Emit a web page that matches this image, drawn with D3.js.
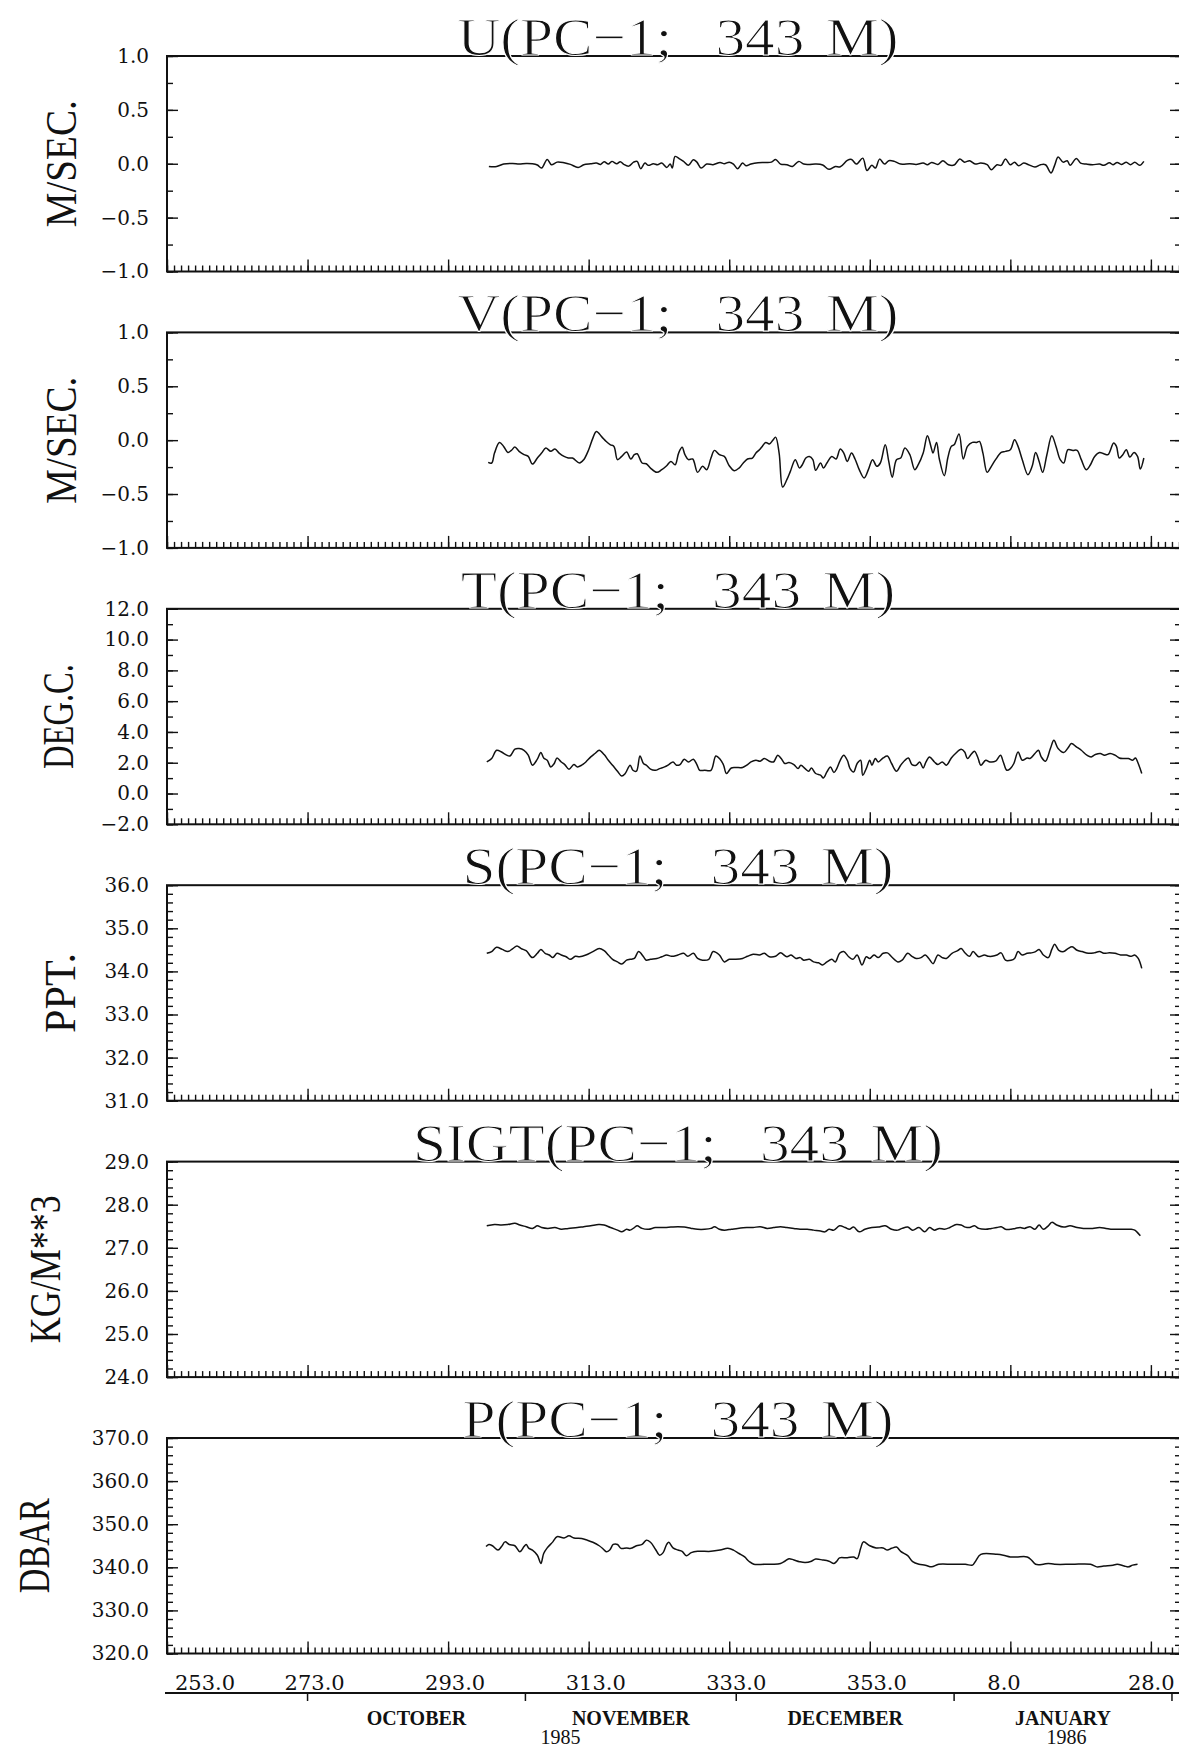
<!DOCTYPE html>
<html>
<head>
<meta charset="UTF-8">
<title>PC-1 343 M</title>
<style>
  body { margin: 0; background: #fff; }
  svg { display: block; background: #fff; }
  text { fill: #111; }
</style>
</head>
<body>
<svg></svg>
<script src="https://d3js.org/d3.v7.min.js"></script>
<script>
// ---- panel text / axes ----
const titles = ["U(PC\u22121;  343 M)", "V(PC\u22121;  343 M)", "T(PC\u22121;  343 M)",
                "S(PC\u22121;  343 M)", "SIGT(PC\u22121;  343 M)", "P(PC\u22121;  343 M)"]
const units = ["M/SEC.", "M/SEC.", "DEG.C.", "PPT.", "KG/M**3", "DBAR"]
const yDomains = [[-1, 1], [-1, 1], [-2, 12], [31, 36], [24, 29], [320, 370]]
const majorSteps = [0.5, 0.5, 2, 1, 1, 10]
const minorSteps = [0.25, 0.25, 1, 0.2, 0.2, 2]

// day of year (1985 based); 8.0 and 28.0 are January 1986
const dayTicks = [253, 273, 293, 313, 333, 353, 373, 393]
const months = ["OCTOBER", "NOVEMBER", "DECEMBER", "JANUARY"]
const monthStarts = [273, 304, 334, 365, 396]
const years = ["1985", "1986"]
const yearDays = [309, 381]

// ---- series: [day, value] ----
const uData = [[298.8,-0.025],[299.9,-0.025],[300.9,-0.003],[302.2,0.003],[303.1,-0.003],[304.1,0.003],[305.0,0],[305.7,-0.012],[306.3,-0.040],[307.1,0.040],[307.7,-0.009],[308.5,0.015],[309.5,0.009],[310.4,-0.006],[311.5,-0.034],[312.3,-0.009],[313.3,0],[314.1,0.006],[314.7,-0.006],[315.2,0.019],[315.8,-0.003],[316.3,0.022],[317.0,0],[317.5,0.019],[318.0,-0.006],[318.7,-0.022],[319.4,0.015],[319.9,0.022],[320.4,-0.046],[321.0,0.006],[321.5,-0.015],[322.2,0],[322.8,-0.009],[323.4,0.006],[324.1,-0.034],[324.6,-0.003],[324.9,-0.040],[325.3,0.068],[326.0,0.043],[326.5,0.022],[327.2,-0.015],[327.9,0.037],[328.4,0.015],[329.0,-0.040],[329.8,-0.003],[330.7,-0.009],[331.7,0.012],[332.3,0],[333.0,0.015],[333.6,-0.003],[334.2,-0.046],[334.9,0.006],[335.4,-0.019],[336.1,-0.003],[337.1,0.009],[338.0,0.012],[339.0,0.015],[339.6,0.040],[340.3,-0.003],[341.2,-0.009],[342.0,-0.025],[342.9,0.022],[343.6,-0.003],[344.4,-0.006],[345.3,-0.003],[346.3,-0.012],[347.2,-0.052],[348.1,-0.025],[348.8,-0.028],[349.8,0.031],[350.4,0.040],[351.1,-0.003],[352.0,0.052],[352.6,-0.062],[353.3,-0.015],[353.8,-0.040],[354.4,0.043],[355.1,-0.003],[355.7,0.028],[356.5,0.022],[357.4,-0.003],[358.7,0],[359.6,-0.006],[360.6,0.006],[361.2,-0.009],[361.8,0.012],[362.7,-0.006],[363.4,0.028],[364.2,-0.009],[365.0,-0.012],[365.8,0.043],[366.5,0.015],[367.2,0.028],[368.0,-0.003],[368.8,0.006],[369.7,-0.009],[370.3,-0.056],[371.1,-0.009],[371.7,-0.015],[372.3,0.043],[373.0,-0.009],[373.6,0.015],[374.2,-0.019],[374.9,0.006],[375.6,-0.009],[376.5,-0.031],[377.3,-0.009],[378.0,-0.009],[378.8,-0.086],[379.3,-0.015],[379.8,0.062],[380.5,0.015],[381.1,0.028],[381.5,-0.015],[382.4,0.049],[383.0,0.006],[383.8,-0.003],[384.7,-0.009],[385.7,-0.003],[386.3,-0.015],[387.1,0.009],[387.6,-0.009],[388.2,0.012],[388.8,-0.006],[389.5,0.015],[390.1,-0.009],[390.7,0.015],[391.4,-0.015],[392.0,0.022]]

const vData = [[298.7,-0.206],[299.2,-0.212],[299.6,-0.120],[300.3,-0.021],[300.9,-0.058],[301.5,-0.114],[302.0,-0.095],[302.5,-0.064],[303.1,-0.104],[303.8,-0.135],[304.4,-0.151],[305.0,-0.222],[305.7,-0.166],[306.3,-0.120],[306.9,-0.073],[307.6,-0.104],[308.2,-0.083],[308.8,-0.120],[309.5,-0.151],[310.1,-0.166],[310.7,-0.166],[311.7,-0.212],[312.3,-0.181],[313.0,-0.089],[313.6,0.019],[314.1,0.081],[314.9,0.028],[315.5,-0.012],[316.1,-0.043],[316.6,-0.058],[317.1,-0.181],[317.7,-0.151],[318.4,-0.110],[319.0,-0.175],[319.5,-0.135],[319.9,-0.126],[320.6,-0.212],[321.2,-0.219],[321.8,-0.259],[322.7,-0.299],[323.4,-0.274],[324.1,-0.237],[324.7,-0.197],[325.3,-0.228],[325.8,-0.120],[326.3,-0.067],[326.7,-0.135],[327.2,-0.181],[327.8,-0.175],[328.5,-0.299],[329.2,-0.243],[329.8,-0.274],[330.4,-0.166],[330.9,-0.095],[331.6,-0.135],[332.3,-0.151],[333.0,-0.237],[333.7,-0.283],[334.4,-0.259],[335.0,-0.212],[335.6,-0.175],[336.3,-0.166],[336.8,-0.120],[337.3,-0.089],[337.7,-0.058],[338.2,-0.021],[338.7,-0.036],[339.2,-0.002],[339.6,0.028],[340.1,-0.120],[340.6,-0.435],[341.2,-0.367],[341.7,-0.290],[342.4,-0.181],[343.0,-0.259],[343.4,-0.228],[343.9,-0.166],[344.4,-0.151],[344.9,-0.181],[345.3,-0.280],[346.0,-0.212],[346.4,-0.259],[346.9,-0.212],[347.6,-0.151],[348.2,-0.175],[348.8,-0.083],[349.3,-0.120],[349.8,-0.197],[350.4,-0.120],[350.9,-0.175],[351.5,-0.274],[352.2,-0.351],[352.8,-0.274],[353.4,-0.181],[354.0,-0.243],[354.5,-0.212],[355.2,-0.043],[355.7,-0.197],[356.2,-0.345],[356.8,-0.181],[357.4,-0.166],[358.0,-0.073],[358.7,-0.135],[359.4,-0.274],[359.9,-0.228],[360.6,-0.120],[361.2,0.041],[361.7,-0.058],[362.0,-0.120],[362.5,-0.021],[362.9,-0.175],[363.6,-0.330],[364.1,-0.166],[364.6,-0.058],[365.0,-0.043],[365.7,0.056],[366.3,-0.175],[366.9,-0.058],[367.6,-0.021],[368.2,-0.021],[368.6,-0.012],[369.1,-0.120],[369.7,-0.299],[370.3,-0.243],[370.9,-0.181],[371.7,-0.114],[372.3,-0.104],[373.0,-0.089],[373.6,0.004],[374.1,-0.058],[374.7,-0.181],[375.5,-0.320],[376.1,-0.243],[376.6,-0.114],[377.1,-0.197],[377.6,-0.299],[378.2,-0.135],[378.9,0.041],[379.5,-0.058],[380.1,-0.181],[380.6,-0.212],[381.2,-0.089],[381.9,-0.095],[382.5,-0.095],[383.1,-0.181],[383.8,-0.274],[384.4,-0.228],[385.0,-0.151],[385.7,-0.114],[386.3,-0.126],[386.9,-0.135],[387.7,-0.027],[388.1,-0.058],[388.5,-0.166],[389.0,-0.135],[389.5,-0.089],[390.0,-0.157],[390.6,-0.114],[391.1,-0.151],[391.5,-0.268],[392.0,-0.166]]

const tData = [[298.5,2.05],[299.2,2.27],[299.9,2.81],[300.6,2.70],[301.2,2.53],[301.8,2.44],[302.5,2.88],[303.1,2.92],[303.8,2.81],[304.4,2.49],[305.0,1.84],[305.7,2.23],[306.2,2.66],[306.6,2.31],[307.1,2.16],[307.6,1.73],[308.1,1.95],[308.5,2.31],[309.1,2.05],[309.6,1.88],[310.2,1.58],[310.9,1.88],[311.4,1.73],[312.0,1.84],[312.6,2.05],[313.3,2.38],[313.9,2.60],[314.5,2.81],[315.2,2.53],[315.8,2.16],[316.4,1.84],[317.1,1.45],[317.7,1.14],[318.2,1.30],[318.9,1.84],[319.3,1.51],[319.8,1.45],[320.3,2.44],[320.8,1.95],[321.2,1.84],[321.8,1.58],[322.5,1.51],[323.1,1.62],[323.8,1.73],[324.4,1.88],[325.0,2.05],[325.5,1.84],[326.0,1.88],[326.6,2.23],[327.2,2.05],[327.9,2.23],[328.4,1.88],[328.8,1.51],[329.5,1.51],[330.4,1.51],[331.1,2.44],[331.7,2.23],[332.2,1.84],[332.6,1.30],[333.3,1.66],[333.9,1.69],[334.9,1.69],[335.5,1.84],[336.1,2.05],[336.8,2.16],[337.4,2.10],[338.0,2.27],[338.7,2.10],[339.3,2.05],[339.9,2.49],[340.4,2.27],[340.9,1.95],[341.5,2.01],[342.2,1.88],[342.8,1.62],[343.2,1.84],[343.8,1.62],[344.3,1.45],[344.7,1.66],[345.3,1.30],[346.0,1.19],[346.4,1.01],[346.9,1.40],[347.4,1.73],[347.9,1.36],[348.3,1.62],[348.8,2.16],[349.3,2.49],[349.8,2.16],[350.2,1.62],[350.7,1.40],[351.2,1.95],[351.7,2.16],[352.0,1.19],[352.5,1.62],[353.0,2.16],[353.3,1.84],[353.8,2.27],[354.2,2.05],[354.9,2.31],[355.5,2.44],[356.1,1.95],[356.8,1.45],[357.4,1.84],[358.0,2.16],[358.5,2.31],[359.0,1.88],[359.6,1.84],[360.1,2.05],[360.6,1.66],[361.0,2.05],[361.5,2.38],[362.2,2.05],[362.7,1.88],[363.3,2.05],[363.9,1.84],[364.6,2.31],[365.2,2.60],[366.0,2.88],[366.5,2.70],[366.9,2.27],[367.4,2.53],[367.9,2.75],[368.4,2.31],[368.8,1.84],[369.5,2.16],[370.1,2.05],[370.9,2.10],[371.6,2.49],[372.0,2.05],[372.5,1.51],[373.0,1.62],[373.5,1.95],[374.1,2.70],[374.7,2.16],[375.4,2.31],[375.8,2.27],[376.5,2.60],[377.0,2.81],[377.4,2.38],[378.0,2.10],[378.7,2.92],[379.2,3.46],[379.8,2.92],[380.6,2.66],[381.2,2.96],[381.7,3.25],[382.4,3.03],[383.1,2.81],[383.9,2.49],[384.5,2.38],[385.1,2.53],[385.8,2.60],[386.4,2.49],[387.2,2.60],[387.9,2.49],[388.5,2.31],[389.1,2.27],[389.8,2.27],[390.4,2.16],[390.8,2.31],[391.2,1.95],[391.7,1.30]]

const sData = [[298.5,34.42],[299.2,34.46],[299.9,34.56],[300.7,34.51],[301.5,34.46],[302.2,34.53],[302.8,34.59],[303.4,34.53],[304.1,34.48],[305.0,34.32],[305.7,34.42],[306.2,34.51],[306.8,34.42],[307.4,34.38],[307.9,34.32],[308.5,34.42],[309.1,34.38],[309.8,34.34],[310.4,34.28],[311.1,34.35],[311.7,34.34],[312.6,34.38],[313.6,34.46],[314.5,34.53],[315.2,34.48],[315.8,34.38],[316.4,34.28],[317.1,34.22],[317.7,34.17],[318.4,34.26],[318.9,34.28],[319.5,34.30],[320.1,34.46],[320.8,34.34],[321.2,34.26],[321.8,34.28],[322.7,34.30],[323.4,34.34],[324.1,34.38],[324.8,34.35],[325.7,34.38],[326.5,34.42],[327.1,34.35],[327.9,34.42],[328.5,34.30],[329.2,34.26],[330.1,34.28],[330.7,34.46],[331.6,34.38],[332.3,34.22],[333.0,34.28],[333.9,34.28],[334.9,34.30],[335.6,34.35],[336.4,34.40],[337.3,34.38],[338.0,34.42],[338.7,34.34],[339.6,34.35],[340.3,34.43],[341.2,34.34],[341.8,34.38],[342.5,34.30],[343.1,34.32],[343.6,34.26],[344.4,34.28],[345.0,34.22],[345.7,34.20],[346.3,34.15],[346.9,34.22],[347.6,34.28],[348.1,34.22],[348.7,34.42],[349.3,34.46],[350.0,34.34],[350.6,34.28],[351.2,34.38],[351.9,34.15],[352.5,34.34],[353.0,34.30],[353.6,34.38],[354.2,34.32],[354.9,34.42],[355.5,34.43],[356.1,34.34],[357.0,34.22],[357.6,34.26],[358.4,34.42],[359.0,34.35],[359.6,34.30],[360.3,34.32],[360.9,34.38],[361.4,34.30],[362.0,34.18],[362.7,34.38],[363.3,34.32],[363.9,34.30],[364.7,34.42],[365.5,34.48],[366.0,34.53],[366.6,34.42],[367.2,34.35],[367.7,34.46],[368.5,34.34],[369.3,34.38],[369.9,34.35],[370.4,34.35],[371.1,34.38],[371.7,34.43],[372.3,34.26],[373.1,34.26],[373.6,34.30],[374.1,34.46],[374.7,34.38],[375.4,34.42],[376.0,34.43],[376.6,34.46],[377.1,34.51],[377.7,34.38],[378.4,34.32],[378.9,34.51],[379.3,34.63],[379.9,34.49],[380.6,34.46],[381.2,34.53],[381.8,34.57],[382.5,34.49],[383.2,34.46],[384.1,34.42],[384.9,34.43],[385.7,34.46],[386.3,34.42],[387.1,34.43],[387.9,34.42],[388.7,34.38],[389.5,34.38],[390.2,34.35],[390.7,34.38],[391.2,34.30],[391.7,34.07]]

const sigtData = [[298.5,27.51],[299.6,27.54],[300.6,27.53],[301.5,27.54],[302.5,27.57],[303.2,27.53],[304.1,27.49],[305.0,27.45],[305.7,27.51],[306.3,27.47],[307.2,27.45],[308.2,27.47],[309.1,27.43],[310.1,27.45],[311.4,27.47],[312.3,27.49],[313.3,27.51],[314.4,27.54],[315.2,27.53],[316.1,27.47],[317.1,27.41],[317.7,27.37],[318.4,27.43],[318.9,27.41],[319.5,27.47],[319.9,27.51],[320.6,27.45],[321.5,27.43],[322.5,27.47],[323.8,27.47],[324.7,27.48],[325.7,27.49],[326.6,27.48],[327.6,27.45],[328.5,27.43],[329.5,27.43],[330.4,27.45],[330.9,27.49],[331.6,27.43],[332.3,27.41],[333.3,27.43],[334.2,27.45],[335.5,27.47],[336.4,27.47],[337.4,27.49],[338.4,27.45],[339.3,27.47],[340.3,27.49],[341.2,27.47],[342.2,27.45],[343.1,27.43],[344.1,27.43],[345.0,27.41],[346.0,27.39],[346.6,27.37],[347.2,27.43],[347.9,27.41],[348.7,27.51],[349.5,27.47],[350.1,27.43],[350.7,27.48],[351.5,27.37],[352.3,27.43],[353.3,27.47],[354.2,27.48],[355.2,27.51],[356.1,27.43],[357.0,27.41],[357.6,27.45],[358.4,27.48],[359.1,27.41],[360.0,27.47],[360.8,27.37],[361.5,27.47],[362.2,27.41],[362.9,27.45],[363.6,27.43],[364.4,27.47],[365.3,27.54],[366.0,27.53],[366.6,27.48],[367.2,27.47],[367.9,27.51],[368.5,27.45],[369.5,27.43],[370.3,27.45],[371.1,27.47],[371.7,27.49],[372.3,27.43],[373.1,27.43],[373.7,27.45],[374.4,27.47],[375.0,27.45],[375.8,27.49],[376.5,27.43],[377.1,27.53],[377.7,27.43],[378.4,27.51],[378.9,27.59],[379.6,27.53],[380.6,27.48],[381.5,27.51],[382.5,27.47],[383.4,27.45],[384.7,27.45],[385.7,27.47],[386.6,27.45],[387.6,27.43],[388.5,27.43],[389.5,27.43],[390.2,27.43],[390.7,27.41],[391.0,27.37],[391.5,27.28]]

const pData = [[298.4,344.8],[298.8,345.3],[299.3,345.0],[300.1,344.0],[300.6,344.8],[301.1,345.9],[301.7,345.3],[302.5,345.0],[303.2,343.6],[303.8,344.8],[304.1,345.3],[304.5,344.4],[305.0,344.0],[305.7,342.8],[306.2,340.9],[306.6,343.2],[307.1,344.5],[307.9,345.9],[308.5,347.1],[309.5,346.8],[310.2,347.3],[310.9,346.8],[312.0,346.7],[312.8,346.3],[313.6,345.8],[314.5,345.0],[315.1,344.2],[315.5,343.6],[316.0,344.0],[316.5,345.3],[317.1,345.3],[317.6,344.4],[318.4,344.5],[319.0,344.4],[319.8,345.0],[320.6,345.3],[321.2,346.3],[321.8,345.8],[322.5,344.2],[323.1,342.8],[323.6,343.4],[324.1,345.3],[324.4,345.8],[325.0,344.5],[325.7,344.0],[326.3,343.7],[326.9,342.7],[327.6,343.4],[328.5,343.7],[330.4,343.7],[331.7,344.0],[332.8,344.4],[333.6,344.0],[334.4,343.2],[335.2,342.4],[335.8,341.4],[336.5,340.7],[338.0,340.7],[339.3,340.7],[340.3,340.9],[340.9,341.4],[341.5,342.0],[342.2,341.7],[343.0,341.3],[343.8,341.1],[344.7,341.4],[345.3,341.9],[346.3,341.7],[347.2,341.4],[347.9,340.9],[348.3,341.4],[348.7,342.2],[349.8,342.2],[350.7,342.4],[351.2,342.0],[351.7,344.4],[352.1,345.9],[353.0,345.0],[353.9,344.5],[354.9,344.5],[355.5,344.0],[356.1,344.4],[356.8,344.7],[357.4,343.7],[358.4,342.7],[359.1,341.3],[360.0,340.7],[360.9,340.5],[361.8,340.1],[362.8,340.7],[364.7,340.7],[366.6,340.7],[367.6,340.5],[368.0,341.3],[368.8,343.0],[371.1,343.0],[372.0,342.8],[373.0,342.4],[373.9,342.4],[375.4,342.4],[376.0,341.7],[376.6,340.7],[377.7,340.7],[378.4,340.9],[379.3,340.7],[381.8,340.7],[384.4,340.7],[385.3,340.1],[386.3,340.3],[387.6,340.5],[388.2,340.7],[389.2,340.3],[389.8,340.1],[390.4,340.5],[391.1,340.7]]

const series = [uData, vData, tData, sData, sigtData, pData]

// ---- layout ----
let width = 1179, height = 1747
let svg = d3.select("svg").attr("width", width).attr("height", height)

let x = d3.scaleLinear().domain([253, 397]).range([167, 1179])
let frameLeft = 167, frameRight = 1181
let panelH = 215.5
let unitX = [61, 61, 58, 60, 45, 34]
let unitLen = [127, 127, 105, 80, 148, 95]
let ink = "#111"

function stepTicks(lo, hi, step) {
    return d3.range(Math.round((hi - lo) / step) + 1).map(k => +(lo + k * step).toFixed(3))
}

let allDays = d3.range(253, 398)
let fmt = d3.format(".1f")

series.forEach((data, i) => {
    let top = 56 + i * 276.4, bottom = top + panelH
    let y = d3.scaleLinear().domain(yDomains[i]).range([bottom, top])
    let [lo, hi] = yDomains[i]
    let major = stepTicks(lo, hi, majorSteps[i])
    let minor = stepTicks(lo, hi, minorSteps[i])
    let g = svg.append("g").attr("class", "panel")

    // left ticks + labels
    g.append("g").attr("transform", "translate(" + frameLeft + ",0)")
        .call(d3.axisLeft(y).tickValues(minor).tickSize(-6).tickFormat(""))
    let la = g.append("g").attr("transform", "translate(" + frameLeft + ",0)")
        .call(d3.axisLeft(y).tickValues(major).tickSize(-11).tickPadding(18).tickFormat(fmt))
    la.attr("font-family", "'DejaVu Serif', serif").attr("font-size", 20)

    // right ticks
    g.append("g").attr("transform", "translate(" + frameRight + ",0)")
        .call(d3.axisRight(y).tickValues(minor).tickSize(-6).tickFormat(""))
    g.append("g").attr("transform", "translate(" + frameRight + ",0)")
        .call(d3.axisRight(y).tickValues(major).tickSize(-11).tickFormat(""))

    // bottom day ticks (pointing up)
    g.append("g").attr("transform", "translate(0," + bottom + ")")
        .call(d3.axisTop(x).tickValues(allDays).tickSize(6).tickFormat(""))
    g.append("g").attr("transform", "translate(0," + bottom + ")")
        .call(d3.axisTop(x).tickValues(dayTicks).tickSize(12).tickFormat(""))

    g.selectAll(".domain").remove()
    g.selectAll(".tick line").attr("stroke", ink).attr("stroke-width", 1.4)

    // frame
    g.append("rect")
        .attr("x", frameLeft).attr("y", top)
        .attr("width", frameRight - frameLeft).attr("height", panelH)
        .attr("fill", "none").attr("stroke", ink).attr("stroke-width", 2)

    // series
    g.append("path")
        .datum(data)
        .attr("fill", "none")
        .attr("stroke", ink)
        .attr("stroke-width", 1.5)
        .attr("stroke-linejoin", "round")
        .attr("d", d3.line().curve(d3.curveCatmullRom.alpha(0.5)).x(d => x(d[0])).y(d => y(d[1])))

    // title sitting on the top frame line (thin strokes like the plotter font)
    g.append("text")
        .attr("transform", "translate(" + ((frameLeft + frameRight) / 2 + 4) + "," + (top - 1) + ") scale(1.12,1)")
        .attr("text-anchor", "middle")
        .attr("font-family", "'Liberation Serif', serif")
        .attr("font-size", 53)
        .attr("stroke", "#fff")
        .attr("stroke-width", 1.1)
        .style("white-space", "pre")
        .style("word-spacing", "6px")
        .text(titles[i])

    // unit label
    g.append("text")
        .attr("transform", "translate(" + unitX[i] + "," + (top + panelH / 2) + ") rotate(-90)")
        .attr("text-anchor", "middle")
        .attr("dy", "0.33em")
        .attr("font-family", "'Liberation Serif', serif")
        .attr("font-size", 44)
        .attr("textLength", unitLen[i])
        .attr("lengthAdjust", "spacingAndGlyphs")
        .text(units[i])

    // day labels under the last panel
    if (i == series.length - 1) {
        g.selectAll("text.day")
            .data(dayTicks)
            .enter()
            .append("text")
            .attr("class", "day")
            .attr("x", d => Math.max(x(d) - 23, frameLeft + 8))
            .attr("y", bottom + 36)
            .attr("font-family", "'DejaVu Serif', serif")
            .attr("font-size", 21)
            .text(d => fmt(d > 365 ? d - 365 : d))
    }
})

// ---- month / year axis ----
let monthY = 1693
let mg = svg.append("g")
mg.append("line")
    .attr("x1", frameLeft - 2).attr("x2", frameRight)
    .attr("y1", monthY).attr("y2", monthY)
    .attr("stroke", ink).attr("stroke-width", 2)
mg.selectAll("line.mtick")
    .data(monthStarts)
    .enter()
    .append("line")
    .attr("class", "mtick")
    .attr("x1", d => x(d)).attr("x2", d => x(d))
    .attr("y1", monthY).attr("y2", monthY + 8)
    .attr("stroke", ink).attr("stroke-width", 1.5)
mg.selectAll("text.month")
    .data(months)
    .enter()
    .append("text")
    .attr("class", "month")
    .attr("x", (d, k) => (x(monthStarts[k]) + x(monthStarts[k + 1])) / 2)
    .attr("y", 1725)
    .attr("text-anchor", "middle")
    .attr("font-family", "'Liberation Serif', serif")
    .attr("font-weight", "bold")
    .attr("font-size", 20)
    .text(d => d)
mg.selectAll("text.year")
    .data(years)
    .enter()
    .append("text")
    .attr("class", "year")
    .attr("x", (d, k) => x(yearDays[k]))
    .attr("y", 1744)
    .attr("text-anchor", "middle")
    .attr("font-family", "'Liberation Serif', serif")
    .attr("font-size", 20)
    .text(d => d)
</script>
</body>
</html>
